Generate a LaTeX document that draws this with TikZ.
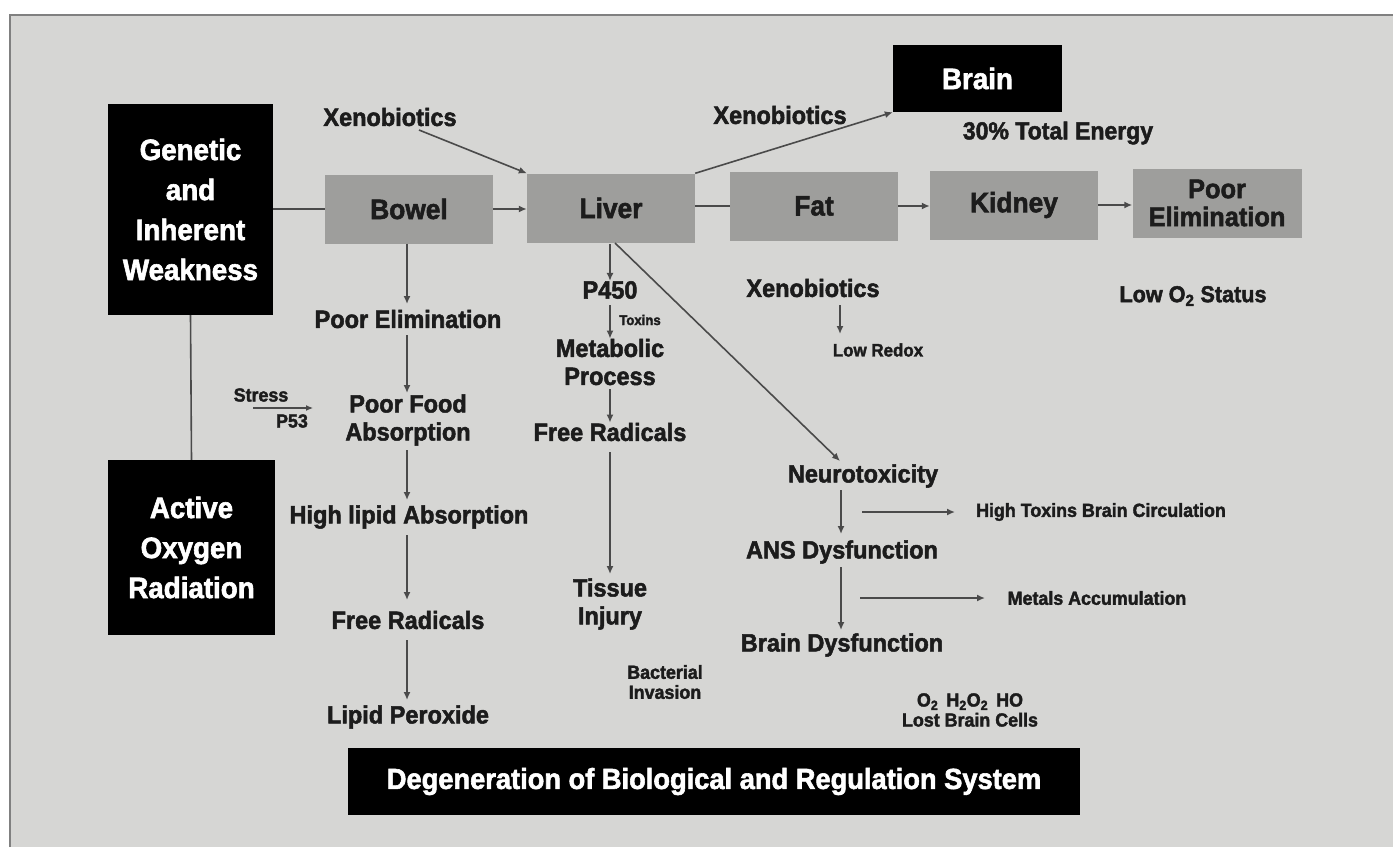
\documentclass[tikz,border=0pt]{standalone}
\usepackage{fontspec}
\setmainfont{Liberation Sans}[FakeStretch=0.94,BoldFont={Liberation Sans Bold},BoldFeatures={FakeStretch=0.94,FakeBold=2}]
\usetikzlibrary{arrows.meta}
\definecolor{panel}{HTML}{D6D6D4}
\definecolor{boxgray}{HTML}{9E9E9C}
\definecolor{txt}{HTML}{1C1C1C}
\definecolor{ln}{HTML}{4A4A4A}
\tikzset{
  lab/.style={text=txt,align=center,inner sep=0pt,font=\bfseries\fontsize{25}{28}\selectfont},
  midlab/.style={text=txt,align=center,inner sep=0pt,font=\bfseries\fontsize{24.5}{26}\selectfont},
  small/.style={text=txt,align=center,inner sep=0pt,font=\bfseries\fontsize{19}{20}\selectfont},
  tiny/.style={text=txt,align=center,inner sep=0pt,font=\bfseries\fontsize{14}{18}\selectfont},
  graybox/.style={fill=boxgray,text=txt,align=center,minimum width=168,minimum height=69,inner sep=0pt,font=\bfseries\fontsize{28}{28}\selectfont},
  blackbox/.style={fill=black,text=white,align=center,inner sep=0pt,font=\bfseries\fontsize{29.5}{40}\selectfont},
  conn/.style={draw=ln,line width=1.6pt},
  arr/.style={conn,-{Latex[length=8pt,width=7pt]}}
}
\begin{document}
\begin{tikzpicture}[x=1pt,y=-1pt]
\useasboundingbox (0,0) rectangle (1393,847);
\fill[white] (0,0) rectangle (1393,847);
\fill[panel] (10,15) rectangle (1393,847);
\draw[line width=1.5pt,color=gray] (10,847) -- (10,15) -- (1393,15);
% main boxes
\node[blackbox,minimum width=165,minimum height=211] (gen) at (190.5,209.5) {Genetic\\and\\Inherent\\Weakness};
\node[blackbox,minimum width=167,minimum height=175] (act) at (191.5,547.5) {Active\\Oxygen\\Radiation};
\node[graybox] (bowel) at (409,209) {Bowel};
\node[graybox] (liver) at (611,208) {Liver};
\node[graybox] (fat) at (814,206) {Fat};
\node[graybox] (kidney) at (1014,205) {Kidney};
\node[graybox,minimum width=169,font=\bfseries\fontsize{27}{28}\selectfont] (pelim) at (1217,203) {Poor\\Elimination};
\node[blackbox,minimum width=169,minimum height=67] (brain) at (977.5,78.5) {Brain};
\node[blackbox,minimum width=732,minimum height=67,font=\bfseries\fontsize{29}{30}\selectfont] (degen) at (714,781.5) {Degeneration of Biological and Regulation System};
% top row connectors
\draw[conn] (gen.east |- bowel.west) -- (bowel.west);
\draw[conn] (gen.south) -- (act.north);
\draw[arr] (bowel.east) -- (liver.west |- bowel.east);
\draw[conn] (liver.east |- fat.west) -- (fat.west);
\draw[arr] (fat.east) -- (kidney.west |- fat.east);
\draw[arr] (kidney.east) -- (pelim.west |- kidney.east);
% xenobiotics
\node[midlab,font=\bfseries\fontsize{25}{26}\selectfont] (xen1) at (390,117) {Xenobiotics};
\draw[arr] (419,130) -- (liver.north west);
\node[midlab,font=\bfseries\fontsize{25}{26}\selectfont] (xen2) at (780,115) {Xenobiotics};
\draw[arr] (liver.north east) -- (brain.south west);
\node[midlab] (energy) at (1058,133) {30\% Total Energy};
\node[midlab,font=\bfseries\fontsize{23}{26}\selectfont] (lowo2) at (1193,296) {Low O\textsubscript{2} Status};
\node[midlab,font=\bfseries\fontsize{25}{26}\selectfont] (xen3) at (813,288) {Xenobiotics};
\node[small,font=\bfseries\fontsize{18}{20}\selectfont] (redox) at (878,350) {Low Redox};
\draw[arr] (840,305) -- (840,334);
% bowel column
\node[lab] (pe2) at (408,319) {Poor Elimination};
\node[lab] (pfa) at (408,420) {Poor Food\\Absorption};
\node[lab] (hla) at (409,517) {High lipid Absorption};
\node[lab] (fr1) at (408,620) {Free Radicals};
\node[lab] (lp) at (408,717) {Lipid Peroxide};
\draw[arr] (bowel.south -| 407,0) -- (407,304);
\draw[arr] (407,335) -- (407,393);
\draw[arr] (407,450) -- (407,500);
\draw[arr] (407,535) -- (407,600);
\draw[arr] (407,640) -- (407,700);
\node[small] (stress) at (261,395) {Stress};
\node[small] (p53) at (292,421) {P53};
\coordinate (sa) at (253,408);
\coordinate (sb) at (313,408);
\draw[conn,line width=1.2pt,-{Latex[length=7pt,width=6pt]}] (sa) -- (sb);
% liver column
\node[lab] (p450) at (610,290) {P450};
\node[lab] (meta) at (610,362) {Metabolic\\Process};
\node[tiny] (toxins) at (640,320) {Toxins};
\node[lab] (fr2) at (610,432) {Free Radicals};
\node[lab] (tissue) at (610,604) {Tissue\\Injury};
\node[small] (bact) at (665,682) {Bacterial\\Invasion};
\draw[arr] (610,244) -- (p450.north);
\draw[arr] (610,305) -- (meta.north);
\draw[arr] (610,389) -- (fr2.north);
\draw[arr] (610,452) -- (610,574);
% brain column
\node[lab] (neuro) at (863,476) {Neurotoxicity};
\node[lab] (ans) at (842,552) {ANS Dysfunction};
\node[lab] (bdys) at (842,645) {Brain Dysfunction};
\draw[arr] (615,243) -- (840,461);
\draw[arr] (841,490) -- (841,534);
\draw[arr] (841,567) -- (841,630);
\node[small] (htbc) at (1101,512) {High Toxins Brain Circulation};
\node[small] (metals) at (1097,598) {Metals Accumulation};
\coordinate (h1) at (862,512);
\coordinate (h2) at (860,598);
\draw[arr] (h1) -- (955,512);
\draw[arr] (h2) -- (985,598);
\node[small] (lost) at (970,710) {O\textsubscript{2}\, H\textsubscript{2}O\textsubscript{2}\, HO\\Lost Brain Cells};
\end{tikzpicture}
\end{document}
